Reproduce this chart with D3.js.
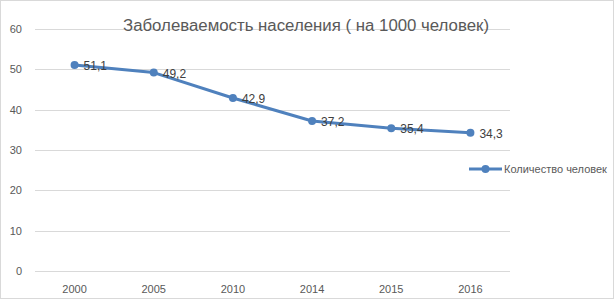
<!DOCTYPE html>
<html>
<head>
<meta charset="utf-8">
<script src="https://cdn.jsdelivr.net/npm/d3@7"></script>
<style>
  body { margin: 0; background: #fff; }
  text { font-family: "Liberation Sans", "DejaVu Sans", sans-serif; }
</style>
</head>
<body>
<svg id="chart"></svg>
<script>
(() => {

    const WIDTH = 616;
    const HEIGHT = 302;
    const LINE_COLOR = "#4f81bd";
    const TEXT_COLOR = "#595959";

    const years = ["2000", "2005", "2010", "2014", "2015", "2016"];
    const values = [51.1, 49.2, 42.9, 37.2, 35.4, 34.3];
    const yTicks = [0, 10, 20, 30, 40, 50, 60];
    const title = "Заболеваемость населения ( на 1000 человек)";
    const seriesName = "Количество человек";

    const plot = { left: 35, right: 510, top: 29, bottom: 271 };

    let svg = d3.select("#chart")
        .attr("width", WIDTH)
        .attr("height", HEIGHT);

    // outer frame
    svg.append("rect")
        .attr("x", 0.5).attr("y", 0.5)
        .attr("width", WIDTH - 3).attr("height", HEIGHT - 4)
        .attr("fill", "#fff")
        .attr("stroke", "#d9d9d9");

    let x = d3.scalePoint()
        .domain(years)
        .range([plot.left, plot.right])
        .padding(0.5);

    let y = d3.scaleLinear()
        .domain([0, 60])
        .range([plot.bottom, plot.top]);

    // gridlines
    svg.append("g")
        .selectAll("line")
        .data(yTicks)
        .join("line")
        .attr("x1", plot.left)
        .attr("x2", plot.right)
        .attr("y1", d => Math.round(y(d)) + 0.5)
        .attr("y2", d => Math.round(y(d)) + 0.5)
        .attr("stroke", "#d9d9d9")
        .attr("stroke-width", 1);

    // y labels
    svg.append("g")
        .selectAll("text")
        .data(yTicks)
        .join("text")
        .attr("x", 22)
        .attr("y", d => y(d))
        .attr("dy", "0.35em")
        .attr("text-anchor", "end")
        .attr("font-size", 11)
        .attr("fill", TEXT_COLOR)
        .text(d => d);

    // x labels
    svg.append("g")
        .selectAll("text")
        .data(years)
        .join("text")
        .attr("x", d => x(d))
        .attr("y", 293)
        .attr("text-anchor", "middle")
        .attr("font-size", 11)
        .attr("fill", TEXT_COLOR)
        .text(d => d);

    // title
    svg.append("text")
        .attr("x", 306)
        .attr("y", 31)
        .attr("text-anchor", "middle")
        .attr("font-size", 16)
        .attr("textLength", 366)
        .attr("lengthAdjust", "spacingAndGlyphs")
        .attr("fill", TEXT_COLOR)
        .text(title);

    let points = years.map((yr, i) => ({ year: yr, value: values[i] }));

    let line = d3.line()
        .x(d => x(d.year))
        .y(d => y(d.value));

    svg.append("path")
        .datum(points)
        .attr("d", line)
        .attr("fill", "none")
        .attr("stroke", LINE_COLOR)
        .attr("stroke-width", 3)
        .attr("stroke-linejoin", "round");

    svg.append("g")
        .selectAll("circle")
        .data(points)
        .join("circle")
        .attr("cx", d => x(d.year))
        .attr("cy", d => y(d.value))
        .attr("r", 4)
        .attr("fill", LINE_COLOR);

    // data labels
    svg.append("g")
        .selectAll("text")
        .data(points)
        .join("text")
        .attr("x", d => x(d.year) + 9)
        .attr("y", d => y(d.value) + 1)
        .attr("dy", "0.35em")
        .attr("font-size", 12)
        .attr("fill", "#404040")
        .text(d => d3.format(".1f")(d.value).replace(".", ","));

    // legend
    let legend = svg.append("g").attr("transform", "translate(469,169)");
    legend.append("line")
        .attr("x1", 0).attr("x2", 33)
        .attr("stroke", LINE_COLOR)
        .attr("stroke-width", 3);
    legend.append("circle")
        .attr("cx", 16.5).attr("r", 4)
        .attr("fill", LINE_COLOR);
    legend.append("text")
        .attr("x", 35)
        .attr("dy", "0.35em")
        .attr("font-size", 11)
        .attr("fill", TEXT_COLOR)
        .text(seriesName);

})();
</script>
</body>
</html>
